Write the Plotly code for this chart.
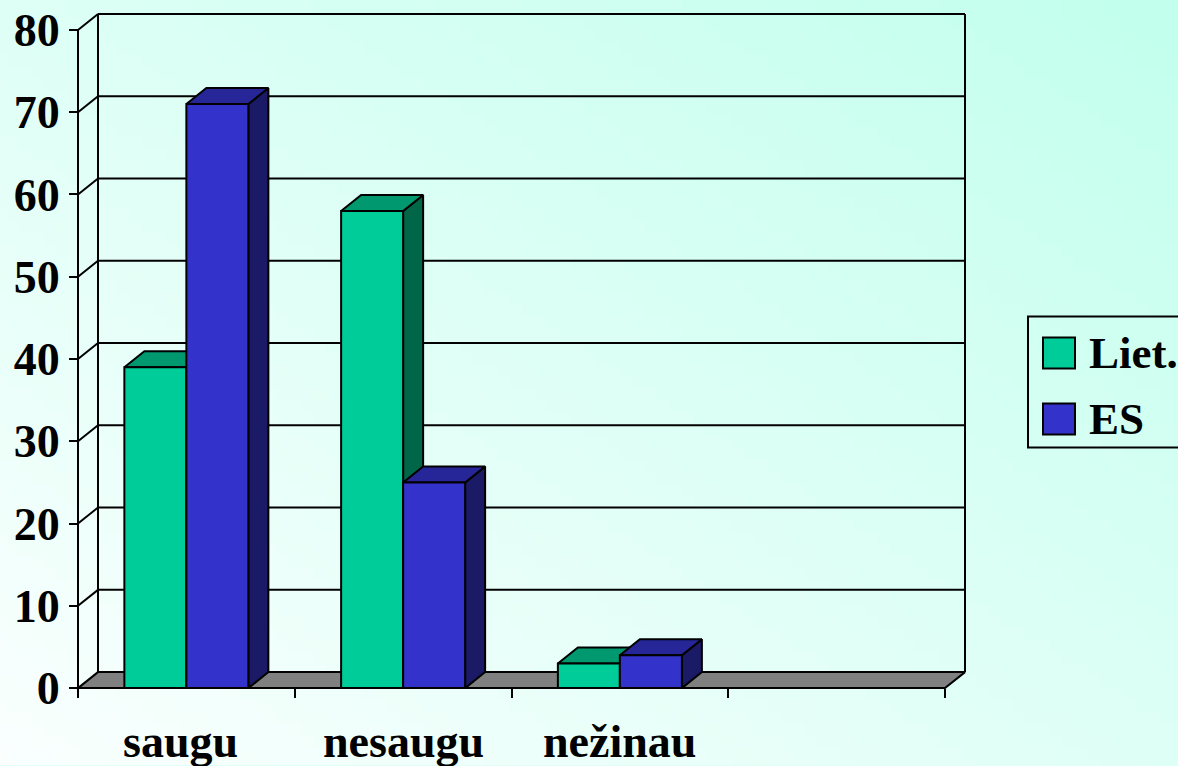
import base64
import struct
import zlib

import plotly.graph_objects as go

# ---------------- data ----------------
categories = ["saugu", "nesaugu", "nežinau"]
n_slots = 4  # the chart reserves a fourth, empty category slot
series_names = ["Liet.", "ES"]
liet_values = [39, 58, 3]
es_values = [71, 25, 4]
y_ticks = [0, 10, 20, 30, 40, 50, 60, 70, 80]

# ---------------- styles ----------------
front_colors = ["#00CC99", "#3333CC"]
top_colors = ["#00996F", "#262699"]
side_colors = ["#006648", "#1A1A66"]
floor_color = "#808080"
label_xshift = [-6, 0, 0]
FONT = "Liberation Serif, Times New Roman, serif"
FS = 46
LW = 2

# ---------------- geometry (pixels) ----------------
W, H = 1178, 780          # page size of the figure
REF_H = 766               # height of the reference picture
SY = H / REF_H            # vertical pixel scale (reference px -> page px)

X0PIX = 78.0              # pixel of x = -0.5
CATPIX = 216.75           # pixels per category
Y0PIX = 689.0 * SY        # pixel of value 0
VALPIX = 8.2375 * SY      # pixels per value unit
DXPIX, DYPIX = 20.0, 16.0 * SY   # 3-D depth offset
PL, PR, PT, PB = 70, 975, 6 * SY, 700 * SY  # plot area in pixels

DX = DXPIX / CATPIX
DY = DYPIX / VALPIX
BAR_W = 62.0 / CATPIX
XL, XR = -0.5, n_slots - 0.5
YTOP = y_ticks[-1]


def px_to_x(px):
    return -0.5 + (px - X0PIX) / CATPIX


def py_to_y(py):
    return (Y0PIX - py) / VALPIX


def ref_py(py):
    """reference pixel row -> paper fraction"""
    return 1 - py * SY / H


# ---------------- background gradient image ----------------
def gradient_png(w, h):
    c_lo = (250, 255, 254)
    c_hi = (194, 255, 237)
    rows = []
    for j in range(h):
        row = bytearray([0])
        for i in range(w):
            t = 0.5 * (i / (w - 1)) + 0.5 * (1 - j / (h - 1))
            for k in range(3):
                row.append(int(round(c_lo[k] + (c_hi[k] - c_lo[k]) * t)))
        rows.append(bytes(row))
    raw = b"".join(rows)

    def chunk(tag, data):
        return (struct.pack(">I", len(data)) + tag + data +
                struct.pack(">I", zlib.crc32(tag + data) & 0xFFFFFFFF))

    png = (b"\x89PNG\r\n\x1a\n" +
           chunk(b"IHDR", struct.pack(">IIBBBBB", w, h, 8, 2, 0, 0, 0)) +
           chunk(b"IDAT", zlib.compress(raw, 9)) + chunk(b"IEND", b""))
    return "data:image/png;base64," + base64.b64encode(png).decode()


fig = go.Figure()


def poly(xs, ys, fill=None):
    fig.add_trace(go.Scatter(
        x=xs, y=ys, mode="lines",
        fill="toself" if fill else None,
        fillcolor=fill,
        line=dict(color="black", width=LW),
        hoverinfo="skip", showlegend=False))


# back wall gridlines
gx, gy = [], []
for v in y_ticks[1:]:
    gx += [XL + DX, XR + DX, None]
    gy += [v + DY, v + DY, None]
# left side wall diagonals
for v in y_ticks[1:]:
    gx += [XL, XL + DX, None]
    gy += [v, v + DY, None]
# back wall vertical edges
gx += [XL + DX, XL + DX, None, XR + DX, XR + DX, None]
gy += [DY, YTOP + DY, None, DY, YTOP + DY, None]
# front value axis line
gx += [XL, XL]
gy += [0, YTOP]
poly(gx, gy)

# floor
poly([XL, XR, XR + DX, XL + DX, XL], [0, 0, DY, DY, 0], floor_color)

# bars
all_values = [liet_values, es_values]
for i in range(len(categories)):
    for s, vals in enumerate(all_values):
        v = vals[i]
        x0 = i - BAR_W + s * BAR_W
        x1 = x0 + BAR_W
        # side
        poly([x1, x1 + DX, x1 + DX, x1, x1], [0, DY, v + DY, v, 0], side_colors[s])
        # top
        poly([x0, x1, x1 + DX, x0 + DX, x0], [v, v, v + DY, v + DY, v], top_colors[s])
        # front
        poly([x0, x1, x1, x0, x0], [0, 0, v, v, 0], front_colors[s])

# category labels
annotations = []
for i, c in enumerate(categories):
    annotations.append(dict(
        x=i, xref="x", y=ref_py(742), yref="paper", xshift=label_xshift[i],
        text=c, showarrow=False, xanchor="center", yanchor="middle",
        font=dict(family=FONT, size=FS, color="black", weight="bold")))

# legend (manual, to match the large swatches)
shapes = []
LEG_L, LEG_T, LEG_R, LEG_B = 1028, 317, 1190, 448
shapes.append(dict(type="rect", xref="paper", yref="paper",
                   x0=LEG_L / W, x1=LEG_R / W, y0=ref_py(LEG_B), y1=ref_py(LEG_T),
                   line=dict(color="black", width=LW), fillcolor="rgba(0,0,0,0)"))
swatch_tops = [338, 404]
for s, name in enumerate(series_names):
    t = swatch_tops[s]
    shapes.append(dict(type="rect", xref="paper", yref="paper",
                       x0=1043 / W, x1=1075 / W, y0=ref_py(t + 31), y1=ref_py(t),
                       line=dict(color="black", width=LW), fillcolor=front_colors[s]))
    annotations.append(dict(
        x=1087 / W, xref="paper", y=ref_py(t + 15.5), yref="paper",
        text=name, showarrow=False, xanchor="left", yanchor="middle",
        font=dict(family=FONT, size=FS - 1, color="black", weight="bold")))

fig.update_layout(
    width=W, height=H,
    margin=dict(l=0, r=0, t=0, b=0),
    paper_bgcolor="#E0FFF6",
    plot_bgcolor="rgba(0,0,0,0)",
    showlegend=False,
    images=[dict(source=gradient_png(96, 64), xref="paper", yref="paper",
                 x=0, y=1, sizex=1, sizey=1, sizing="stretch",
                 xanchor="left", yanchor="top", layer="below")],
    xaxis=dict(
        domain=[PL / W, PR / W], range=[px_to_x(PL), px_to_x(PR)],
        anchor="free", position=1 - Y0PIX / H,
        tickmode="array", tickvals=[k - 0.5 for k in range(n_slots + 1)],
        ticks="outside", ticklen=9, tickwidth=LW, tickcolor="black",
        showticklabels=False, showgrid=False, zeroline=False, showline=False,
        fixedrange=True),
    yaxis=dict(
        domain=[1 - PB / H, 1 - PT / H], range=[py_to_y(PB), py_to_y(PT)],
        anchor="free", position=X0PIX / W,
        tickmode="array", tickvals=y_ticks, ticktext=[str(v) for v in y_ticks],
        ticks="outside", ticklen=9, tickwidth=LW, tickcolor="black",
        tickfont=dict(family=FONT, size=FS, color="black", weight="bold"),
        showgrid=False, zeroline=False, showline=False, fixedrange=True),
    shapes=shapes,
    annotations=annotations,
)

post = (
    "document.documentElement.style.margin='0';"
    "document.documentElement.style.overflow='hidden';"
    "document.body.style.margin='0';"
    "document.body.style.overflow='hidden';"
    "var gd=document.getElementById('{plot_id}');"
    "gd.style.position='fixed';gd.style.left='0';gd.style.top='0';"
)

fig.write_html("out.html", config={"displayModeBar": False}, post_script=post)
